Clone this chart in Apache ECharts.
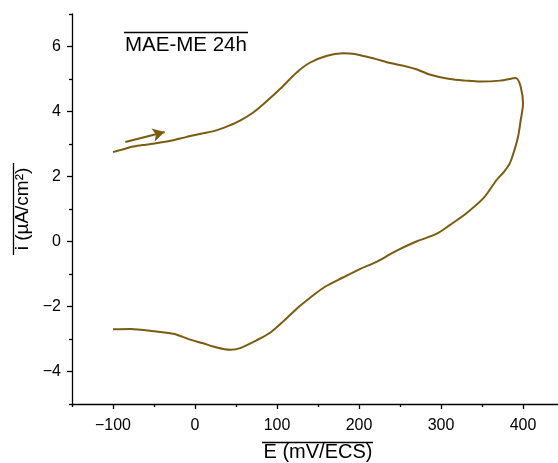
<!DOCTYPE html>
<html>
<head>
<meta charset="utf-8">
<script src="https://cdn.jsdelivr.net/npm/echarts@6/dist/echarts.min.js"></script>
<style>html,body{margin:0;padding:0;background:#fff;}#chart{width:558px;height:463px;}</style>
</head>
<body>
<div id="chart"></div>
<script>
// Potential (mV/ECS) and current density (µA/cm²) along the cyclic scan
var potential = [-100,-90,-75,-60,-46,-30,-10,10,26,40,55,71,88,104,124,140,160,180,195,205,220,238,254,270,287,311,330,348,372,391,
  400,397,394,390,384,377,368,352,331,311,295,270,246,222,201,181,158,140,124,108,92,75,55,43,22,10,-6,-26,-47,-79,-100];
var current = [2.75,2.82,2.92,2.98,3.03,3.10,3.22,3.33,3.42,3.55,3.72,3.97,4.33,4.70,5.20,5.50,5.71,5.79,5.77,5.71,5.62,5.49,5.41,5.30,5.13,5.00,4.95,4.92,4.95,5.03,
  4.25,3.70,3.23,2.85,2.41,2.15,1.90,1.34,0.87,0.51,0.24,0.00,-0.28,-0.62,-0.85,-1.10,-1.40,-1.74,-2.07,-2.45,-2.80,-3.04,-3.28,-3.33,-3.23,-3.13,-3.02,-2.84,-2.77,-2.69,-2.70];
// Scan-direction arrow (start, end) in data units
var arrowStart = [-85, 3.06];
var arrowEnd = [-37, 3.37];
var xMajor = [-100, 0, 100, 200, 300, 400];
var xMinor = [-150, -50, 50, 150, 250, 350, 450];
var yMajor = [-4, -2, 0, 2, 4, 6];
var yMinor = [-5, -3, -1, 1, 3, 5, 7];
var titleText = 'MAE-ME 24h';
var xName = 'E (mV/ECS)';
var yName = 'i (\u00b5A/cm\u00b2)';

var lineColor = '#7a5b12';
var font = '"Liberation Sans", Arial, sans-serif';
var fmt = function (v) { return String(v).replace('-', '\u2212'); };

var data = potential.map(function (e, i) { return [e, current[i]]; });

var chart = echarts.init(document.getElementById('chart'));
chart.setOption({
  animation: false,
  backgroundColor: '#fff',
  title: {
    text: titleText, left: 125, top: 35, padding: 0,
    textStyle: { fontFamily: font, fontSize: 20.5, fontWeight: 'normal', color: '#000' }
  },
  grid: { left: 72, top: 14, right: -6, bottom: 59, outerBoundsMode: 'none', containLabel: false },
  xAxis: [{
    type: 'value', min: -150, max: 450, position: 'bottom',
    name: xName, nameLocation: 'middle', nameGap: 38,
    nameTextStyle: { fontFamily: font, fontSize: 20, color: '#000' },
    axisLine: { onZero: false, lineStyle: { color: '#000', width: 1.3 } },
    axisTick: { customValues: xMajor, length: 5, lineStyle: { color: '#000', width: 1.3 } },
    axisLabel: { customValues: xMajor, formatter: fmt, fontFamily: font, fontSize: 16, color: '#000', margin: 14 },
    splitLine: { show: false }
  }, {
    type: 'value', min: -150, max: 450, position: 'bottom', offset: 0,
    axisLine: { show: false, onZero: false },
    axisTick: { customValues: xMinor, length: 3, lineStyle: { color: '#000', width: 1.3 } },
    axisLabel: { show: false },
    splitLine: { show: false }
  }],
  yAxis: [{
    type: 'value', min: -5, max: 7, position: 'left',
    name: yName, nameLocation: 'middle', nameGap: 39, nameRotate: 90,
    nameTextStyle: { fontFamily: font, fontSize: 19, color: '#000' },
    axisLine: { onZero: false, lineStyle: { color: '#000', width: 1.3 } },
    axisTick: { customValues: yMajor, length: 5, lineStyle: { color: '#000', width: 1.3 } },
    axisLabel: { customValues: yMajor, formatter: fmt, fontFamily: font, fontSize: 16, color: '#000', margin: 11 },
    splitLine: { show: false }
  }, {
    type: 'value', min: -5, max: 7, position: 'left', offset: 0,
    axisLine: { show: false, onZero: false },
    axisTick: { customValues: yMinor, length: 3, lineStyle: { color: '#000', width: 1.3 } },
    axisLabel: { show: false },
    splitLine: { show: false }
  }],
  series: [{
    type: 'line', data: data, xAxisIndex: 0, yAxisIndex: 0,
    showSymbol: false, smooth: 0.3,
    lineStyle: { color: lineColor, width: 2 },
    markLine: {
      silent: true, symbol: ['none', 'arrow'], symbolSize: [10, 12],
      label: { show: false },
      lineStyle: { color: lineColor, width: 2, type: 'solid' },
      data: [[{ coord: arrowStart }, { coord: arrowEnd }]]
    }
  }],
  graphic: [
    { type: 'line', shape: { x1: 124, y1: 32.5, x2: 248, y2: 32.5 }, style: { stroke: '#000', lineWidth: 1.3 } },
    { type: 'line', shape: { x1: 262, y1: 442.5, x2: 373, y2: 442.5 }, style: { stroke: '#000', lineWidth: 1.3 } },
    { type: 'line', shape: { x1: 13.5, y1: 163, x2: 13.5, y2: 255 }, style: { stroke: '#000', lineWidth: 1.3 } }
  ]
});
</script>
</body>
</html>
